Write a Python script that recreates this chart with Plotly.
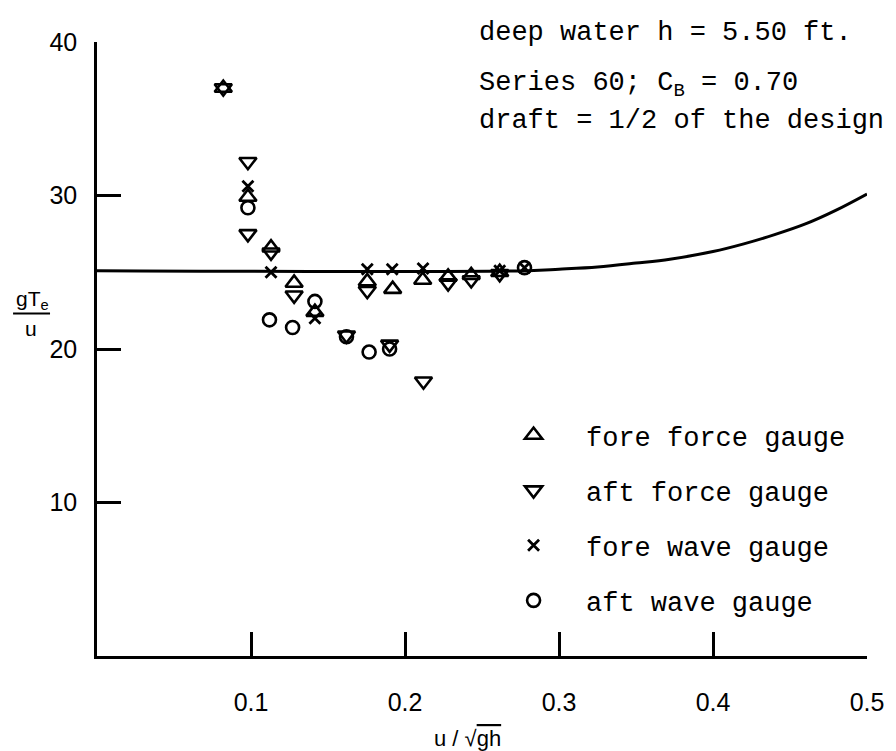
import plotly.graph_objects as go

# Encounter-period parameter gTe/u against depth Froude number u/sqrt(gh)
# Deep-water reference curve
curve_x = [0.0, 0.28, 0.30, 0.325, 0.35, 0.372, 0.40, 0.42, 0.44, 0.46, 0.48, 0.50]
curve_y = [25.1, 25.1, 25.2, 25.35, 25.6, 25.85, 26.35, 26.85, 27.45, 28.15, 29.05, 30.1]

# fore force gauge (triangle up)
ff_x = [0.082, 0.098, 0.113, 0.128, 0.1415, 0.1755, 0.192, 0.2115, 0.228, 0.243, 0.2615]
ff_y = [37.0, 29.9, 26.6, 24.3, 22.4, 24.4, 23.9, 24.5, 24.7, 24.8, 25.0]

# aft force gauge (triangle down)
af_x = [0.082, 0.098, 0.098, 0.113, 0.128, 0.162, 0.1755, 0.19, 0.212, 0.228, 0.243, 0.2615]
af_y = [37.0, 32.2, 27.5, 26.3, 23.5, 20.9, 23.8, 20.3, 17.9, 24.3, 24.5, 24.9]

# fore wave gauge (x)
fw_x = [0.098, 0.113, 0.1415, 0.1755, 0.1917, 0.2117, 0.2615, 0.2776]
fw_y = [30.6, 25.0, 22.0, 25.2, 25.2, 25.25, 25.1, 25.3]

# aft wave gauge (circle)
aw_x = [0.098, 0.112, 0.127, 0.1415, 0.162, 0.1767, 0.19, 0.2776]
aw_y = [29.2, 21.9, 21.4, 23.1, 20.8, 19.8, 20.0, 25.3]

x_ticks = [0.1, 0.2, 0.3, 0.4, 0.5]
x_tick_text = ["0.1", "0.2", "0.3", "0.4", "0.5"]
y_ticks = [10, 20, 30, 40]
y_tick_text = ["10", "20", "30", "40"]

NB = "\u00a0"
mono = "Liberation Mono"
sans = "Liberation Sans"

fig = go.Figure()

fig.add_trace(go.Scatter(
    x=curve_x, y=curve_y, mode="lines", line=dict(color="black", width=3, shape="spline"),
    showlegend=False, hoverinfo="skip"))

series = [
    (ff_x, ff_y, "triangle-up-open", 15, "fore force gauge"),
    (af_x, af_y, "triangle-down-open", 15, "aft force gauge"),
    (fw_x, fw_y, "x-thin-open", 11, "fore wave gauge"),
    (aw_x, aw_y, "circle-open", 13, "aft wave gauge"),
]
for i, (xs, ys, sym, sz, name) in enumerate(series):
    fig.add_trace(go.Scatter(
        x=xs, y=ys, mode="markers", name=NB * 2 + name, legendgroup=f"g{i}",
        marker=dict(symbol=sym, size=sz, color="black",
                    line=dict(color="black", width=2.6 if sym != "x-thin-open" else 2.8))))

# Annotation text block (upper right)
notes = [
    ("deep water h = 5.50 ft.", 1.0147),
    ("Series 60; C<sub>B</sub> = 0.70", 0.930),
    ("draft = 1/2 of the design", 0.871),
]
for txt, yy in notes:
    fig.add_annotation(text=txt, xref="paper", yref="paper", x=0.494, y=yy,
                       xanchor="left", yanchor="middle", showarrow=False,
                       font=dict(family=mono, size=27, color="black"))

# y-axis title as a fraction gTe / u
fig.add_annotation(text="gT<sub>e</sub>", xref="paper", yref="paper", x=-0.084, y=0.580,
                   xanchor="center", yanchor="middle", showarrow=False,
                   font=dict(family=sans, size=21, color="black"))
fig.add_annotation(text="u", xref="paper", yref="paper", x=-0.086, y=0.533,
                   xanchor="center", yanchor="middle", showarrow=False,
                   font=dict(family=sans, size=21, color="black"))
fig.add_shape(type="line", xref="paper", yref="paper", x0=-0.109, x1=-0.061,
              y0=0.558, y1=0.558, line=dict(color="black", width=2))

# x-axis title u / sqrt(gh)
fig.add_annotation(text="u / \u221a<span style='text-decoration:overline'>gh</span>",
                   xref="paper", yref="paper", x=0.481, y=-0.134,
                   xanchor="center", yanchor="middle", showarrow=False,
                   font=dict(family=sans, size=22, color="black"))

fig.update_layout(
    width=896, height=751,
    margin=dict(l=97, r=19, t=42, b=95),
    paper_bgcolor="white", plot_bgcolor="white",
    showlegend=True,
    legend=dict(x=0.541, y=0.399, xanchor="left", yanchor="top",
                font=dict(family=mono, size=27, color="black"),
                tracegroupgap=17, bgcolor="rgba(0,0,0,0)", itemsizing="trace"),
    xaxis=dict(range=[0, 0.5], showline=True, linecolor="black", linewidth=2.5,
               ticks="inside", ticklen=24, tickwidth=2.5, tickcolor="black",
               tickvals=x_ticks, ticktext=x_tick_text, showgrid=False, zeroline=False,
               ticklabelstandoff=22,
               tickfont=dict(family=sans, size=25, color="black")),
    yaxis=dict(range=[0, 40], showline=True, linecolor="black", linewidth=2.5,
               ticks="inside", ticklen=24, tickwidth=2.5, tickcolor="black",
               tickvals=y_ticks, ticktext=y_tick_text, showgrid=False, zeroline=False,
               ticklabelstandoff=12,
               tickfont=dict(family=sans, size=25, color="black")),
)

fig.write_html("out.html")
